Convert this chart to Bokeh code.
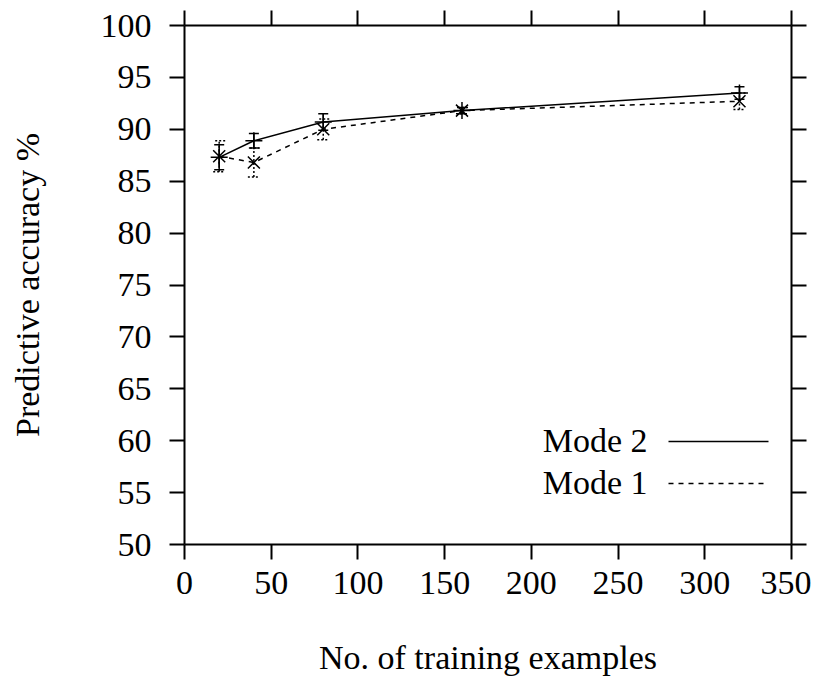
from bokeh.plotting import figure
from bokeh.models import (LinearAxis, FixedTicker, ColumnDataSource, Whisker, TeeHead,
                          Label, Arrow, CustomJSTickFormatter)
from bokeh.embed import file_html
from bokeh.resources import INLINE

# ---- data ----
train_sizes = [20, 40, 80, 160, 320]
mode2_acc = [87.3, 88.9, 90.7, 91.8, 93.5]
mode2_err = [1.2, 0.7, 0.8, 0.3, 0.6]
mode1_acc = [87.4, 86.8, 90.0, 91.8, 92.7]
mode1_err = [1.5, 1.4, 1.0, 0.3, 0.8]

x_ticks = [0, 50, 100, 150, 200, 250, 300, 350]
y_ticks = [50, 55, 60, 65, 70, 75, 80, 85, 90, 95, 100]

FONT = "Liberation Serif"
FS = "34px"

p = figure(frame_width=607, frame_height=519,
           x_range=(0, 350), y_range=(50, 100),
           output_backend="svg", toolbar_location=None,
           min_border_left=184, min_border_right=20,
           min_border_top=25, min_border_bottom=144)
p.xgrid.visible = False
p.ygrid.visible = False
p.outline_line_color = None
p.background_fill_color = "white"
p.border_fill_color = "white"

top_axis = LinearAxis(ticker=FixedTicker(ticks=x_ticks),
                      formatter=CustomJSTickFormatter(code="return ''"))
right_axis = LinearAxis(ticker=FixedTicker(ticks=y_ticks),
                        formatter=CustomJSTickFormatter(code="return ''"))
p.add_layout(top_axis, "above")
p.add_layout(right_axis, "right")

bottom = p.below[0]
left = p.left[0]
bottom.ticker = FixedTicker(ticks=x_ticks)
left.ticker = FixedTicker(ticks=y_ticks)

for ax in [bottom, left, top_axis, right_axis]:
    ax.axis_line_width = 2
    ax.axis_line_color = "black"
    ax.major_tick_line_width = 2
    ax.major_tick_line_color = "black"
    ax.major_tick_in = 0
    ax.major_tick_out = 15
    ax.minor_tick_line_color = None
    ax.major_label_text_font = FONT
    ax.major_label_text_font_size = FS
    ax.major_label_text_color = "black"
    ax.axis_label_text_font = FONT
    ax.axis_label_text_font_size = FS
    ax.axis_label_text_font_style = "normal"
    ax.axis_label_text_color = "black"

for ax in [top_axis, right_axis]:
    ax.major_label_standoff = 0

bottom.axis_label = "No. of training examples"
bottom.major_label_standoff = 12
bottom.axis_label_standoff = 42
left.axis_label = "Predictive accuracy %"
left.major_label_standoff = 18
left.axis_label_standoff = 52

src2 = ColumnDataSource(dict(
    x=train_sizes, y=mode2_acc,
    lo=[a - e for a, e in zip(mode2_acc, mode2_err)],
    hi=[a + e for a, e in zip(mode2_acc, mode2_err)]))
src1 = ColumnDataSource(dict(
    x=train_sizes, y=mode1_acc,
    lo=[a - e for a, e in zip(mode1_acc, mode1_err)],
    hi=[a + e for a, e in zip(mode1_acc, mode1_err)]))

# lines
p.line("x", "y", source=src2, line_color="black", line_width=1.5)
p.line("x", "y", source=src1, line_color="black", line_width=1.5, line_dash="5 5")

# error bars
w2 = Whisker(base="x", lower="lo", upper="hi", source=src2,
             line_color="black", line_width=1.5,
             upper_head=TeeHead(size=10, line_color="black", line_width=1.5),
             lower_head=TeeHead(size=10, line_color="black", line_width=1.5))
w1 = Whisker(base="x", lower="lo", upper="hi", source=src1,
             line_color="black", line_width=1.5, line_dash="2 2",
             upper_head=TeeHead(size=12, line_color="black", line_width=1.5, line_dash="2 2"),
             lower_head=TeeHead(size=12, line_color="black", line_width=1.5, line_dash="2 2"))
p.add_layout(w2)
p.add_layout(w1)

# markers
p.scatter("x", "y", source=src2, marker="cross", size=17, line_color="black", line_width=1.5)
p.scatter("x", "y", source=src1, marker="x", size=17, line_color="black", line_width=1.5)

# key (text on the left, sample on the right, gnuplot style)
for label, ly, dash in [("Mode 2", 103, "solid"), ("Mode 1", 61, "5 5")]:
    p.add_layout(Label(x=463, y=ly + 1, x_units="screen", y_units="screen", text=label,
                       text_font=FONT, text_font_size=FS, text_align="right",
                       text_baseline="alphabetic", text_color="black"))
    p.add_layout(Arrow(x_start=484, y_start=ly, x_end=584, y_end=ly,
                       start_units="screen", end_units="screen",
                       start=None, end=None, line_color="black", line_width=1.5,
                       line_dash=dash))

open("out.html", "w").write(file_html(p, INLINE))
